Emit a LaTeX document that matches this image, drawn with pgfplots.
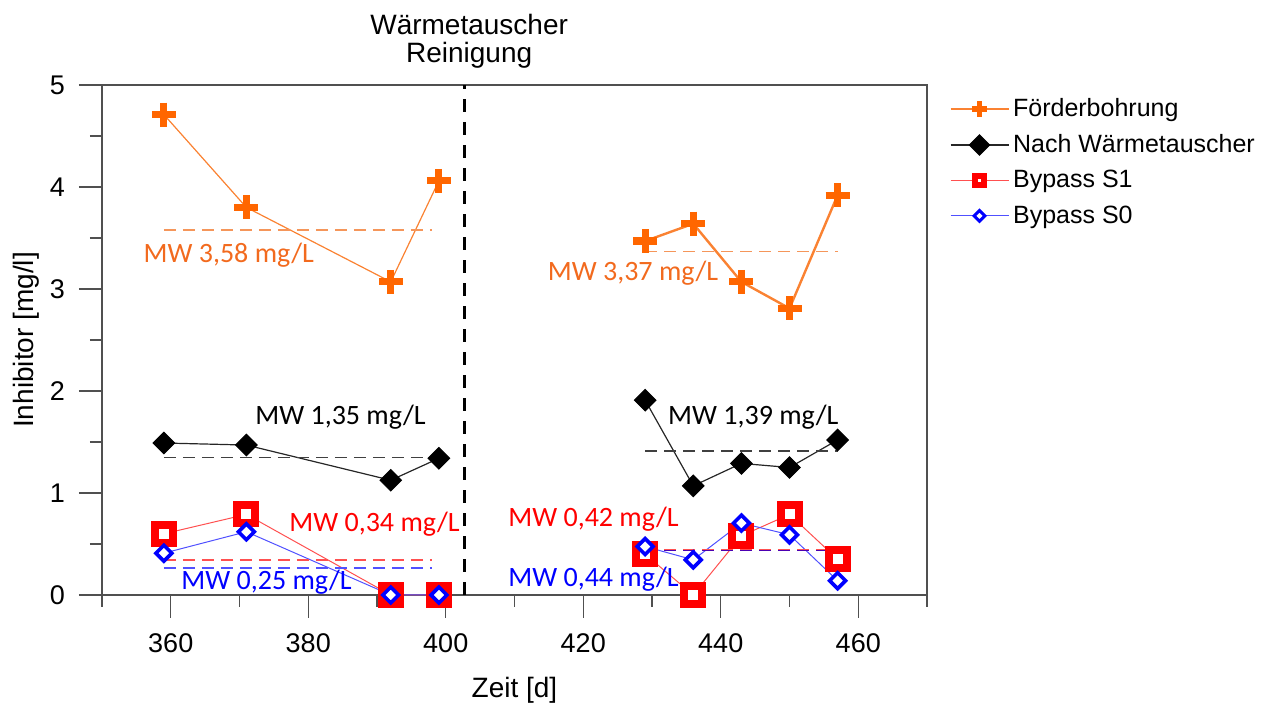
\documentclass[border=0pt]{standalone}
\usepackage{pgfplots}
\pgfplotsset{compat=1.18}
\usepackage{fontspec}
\setmainfont{Liberation Sans}
\newfontfamily\calfont{Carlito}
\definecolor{orM}{RGB}{255,102,0}
\definecolor{orL}{RGB}{250,130,50}
\definecolor{orT}{RGB}{242,106,30}
\definecolor{orD}{RGB}{245,150,90}
\definecolor{rdM}{RGB}{255,0,0}
\definecolor{rdL}{RGB}{255,80,80}
\definecolor{blM}{RGB}{0,0,255}
\definecolor{blL}{RGB}{80,80,255}
\definecolor{axc}{RGB}{80,80,80}
\begin{document}
\begin{tikzpicture}
\begin{axis}[
  scale only axis, width=412.5pt, height=255pt,
  xmin=350, xmax=470, ymin=0, ymax=5,
  xtick={360,380,...,460}, minor xtick={350,370,...,470},
  ytick={0,1,...,5}, minor ytick={0.5,1.5,...,4.5},
  tick pos=left, tick align=outside,
  major tick length=11.5pt, minor tick length=6pt,
  every tick/.style={axc, line width=0.7pt},
  axis line style={axc, line width=0.75pt},
  /pgf/number format/assume math mode=true,
  ticklabel style={font=\fontsize{13.5}{16}\selectfont},
  xticklabel style={yshift=-4.5pt},
  yticklabel style={xshift=-3.5pt},
  xlabel={Zeit [d]}, ylabel={Inhibitor [mg/l]},
  label style={font=\fontsize{14}{16}\selectfont},
  xlabel style={at={(axis description cs:0.5,0)}, anchor=base, yshift=-51.5pt},
  ylabel style={at={(axis description cs:0,0.5)}, anchor=center, yshift=38pt},
  clip=false,
  legend style={at={(1.02,0.99)}, anchor=north west, draw=none, fill=none,
    font=\fontsize{12.5}{14}\selectfont, row sep=3.4pt, cells={anchor=west}},
  legend image code/.code={\draw[mark repeat=2,mark phase=2] plot coordinates {(0pt,0pt) (14.5pt,0pt) (29pt,0pt)};},
]
% legend images
\addlegendimage{orL, line width=0.6pt, mark=+, mark size=3.8pt, mark options={orM, line width=2.6pt}}
\addlegendentry{Förderbohrung}
\addlegendimage{black!85, line width=0.6pt, mark=square*, mark size=3.6pt, mark options={black, rotate=45, line width=0.5pt}}
\addlegendentry{Nach Wärmetauscher}
\addlegendimage{rdL, line width=0.6pt, mark=square*, mark size=2.3pt, mark options={draw=rdM, fill=white, line width=2.9pt}}
\addlegendentry{Bypass S1}
\addlegendimage{blL, line width=0.6pt, mark=square*, mark size=1.9pt, mark options={draw=blM, fill=white, rotate=45, line width=1.5pt}}
\addlegendentry{Bypass S0}
% left part
\addplot[orL, line width=0.6pt, mark=+, mark size=6pt, mark options={orM, line width=3.6pt}, forget plot]
  coordinates {(359,4.71) (371,3.80) (392,3.07) (399,4.06)};
\addplot[black!85, line width=0.6pt, mark=square*, mark size=3.8pt, mark options={black, rotate=45, line width=0.5pt}, forget plot]
  coordinates {(359,1.49) (371,1.47) (392,1.125) (399,1.34)};
\addplot[rdL, line width=0.5pt, mark=square*, mark size=4.5pt, mark options={draw=rdM, fill=white, line width=4pt}, forget plot]
  coordinates {(359,0.60) (371,0.79) (392,0) (399,0)};
\addplot[blL, line width=0.5pt, mark=square*, mark size=2.8pt, mark options={draw=blM, fill=white, rotate=45, line width=1.8pt}, forget plot]
  coordinates {(359,0.41) (371,0.62) (392,0) (399,0)};
% right part
\addplot[orL, line width=1.2pt, mark=+, mark size=6pt, mark options={orM, line width=3.6pt}, forget plot]
  coordinates {(429,3.47) (436,3.64) (443,3.07) (450,2.81) (457,3.92)};
\addplot[black!85, line width=0.6pt, mark=square*, mark size=3.8pt, mark options={black, rotate=45, line width=0.5pt}, forget plot]
  coordinates {(429,1.91) (436,1.07) (443,1.29) (450,1.25) (457,1.52)};
\addplot[rdL, line width=0.5pt, mark=square*, mark size=4.5pt, mark options={draw=rdM, fill=white, line width=4pt}, forget plot]
  coordinates {(429,0.40) (436,0) (443,0.58) (450,0.79) (457,0.35)};
\addplot[blL, line width=0.5pt, mark=square*, mark size=2.8pt, mark options={draw=blM, fill=white, rotate=45, line width=1.8pt}, forget plot]
  coordinates {(429,0.475) (436,0.345) (443,0.705) (450,0.59) (457,0.14)};
% mean lines
\addplot[orD, line width=0.7pt, dash pattern=on 6pt off 3.5pt, forget plot] coordinates {(359,3.58) (398,3.58)};
\addplot[orD, line width=0.7pt, dash pattern=on 6pt off 3.5pt, forget plot] coordinates {(429,3.37) (457,3.37)};
\addplot[black!75, line width=0.7pt, dash pattern=on 6pt off 3.5pt, forget plot] coordinates {(359,1.35) (399,1.35)};
\addplot[black!75, line width=0.7pt, dash pattern=on 6pt off 3.5pt, forget plot] coordinates {(429,1.41) (457,1.41)};
\addplot[rdL, line width=0.7pt, dash pattern=on 6pt off 3.5pt, forget plot] coordinates {(359,0.345) (398,0.345)};
\addplot[rdL, line width=0.7pt, dash pattern=on 6pt off 3.5pt, forget plot] coordinates {(429,0.44) (457,0.44)};
\addplot[blL, line width=0.7pt, dash pattern=on 6pt off 3.5pt, forget plot] coordinates {(359,0.265) (398,0.265)};
\addplot[blM!70!red, line width=0.7pt, dash pattern=on 6pt off 3.5pt, forget plot] coordinates {(429,0.435) (457,0.435)};
% vertical line
\addplot[black, line width=1.4pt, dash pattern=on 6.5pt off 5pt, forget plot] coordinates {(402.7,0) (402.7,5)};
% labels
\node[anchor=base west, inner sep=0, text=orT, font=\calfont\fontsize{14}{16}\selectfont] at (axis cs:356.0,3.26) {MW 3,58 mg/L};
\node[anchor=base west, inner sep=0, text=orT, font=\calfont\fontsize{14}{16}\selectfont] at (axis cs:414.8,3.08) {MW 3,37 mg/L};
\node[anchor=base west, inner sep=0, text=black, font=\calfont\fontsize{14}{16}\selectfont] at (axis cs:372.25,1.673) {MW 1,35 mg/L};
\node[anchor=base west, inner sep=0, text=black, font=\calfont\fontsize{14}{16}\selectfont] at (axis cs:432.3,1.673) {MW 1,39 mg/L};
\node[anchor=base west, inner sep=0, text=rdM, font=\calfont\fontsize{14}{16}\selectfont] at (axis cs:377.2,0.623) {MW 0,34 mg/L};
\node[anchor=base west, inner sep=0, text=rdM, font=\calfont\fontsize{14}{16}\selectfont] at (axis cs:409.05,0.672) {MW 0,42 mg/L};
\node[anchor=base west, inner sep=0, text=blM, font=\calfont\fontsize{14}{16}\selectfont] at (axis cs:361.5,0.049) {MW 0,25 mg/L};
\node[anchor=base west, inner sep=0, text=blM, font=\calfont\fontsize{14}{16}\selectfont] at (axis cs:409.05,0.082) {MW 0,44 mg/L};
% title
\node[anchor=base, inner sep=0, font=\fontsize{14}{16}\selectfont] at (axis cs:403.4,5) [yshift=25pt] {Wärmetauscher};
\node[anchor=base, inner sep=0, font=\fontsize{14}{16}\selectfont] at (axis cs:403.4,5) [yshift=11pt] {Reinigung};
\end{axis}
\pgfresetboundingbox
\path[use as bounding box] (-51pt,-54.5pt) rectangle (587.5pt,297.5pt);
\end{tikzpicture}
\end{document}
